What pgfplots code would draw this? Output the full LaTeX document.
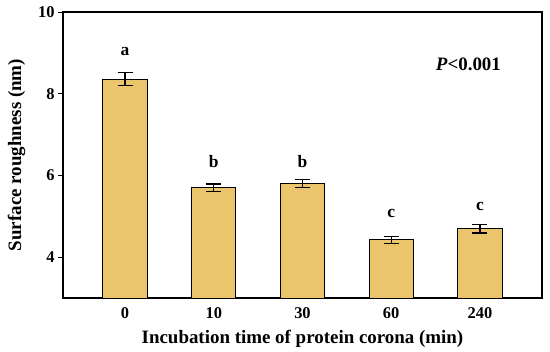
\documentclass[border=0pt]{standalone}
\usepackage{pgfplots}
\pgfplotsset{compat=1.18}
\usepackage{fontspec}
\setmainfont{Liberation Serif}
\definecolor{barcol}{HTML}{EBC56C}
\begin{document}
\begin{tikzpicture}
\begin{axis}[
  scale only axis,
  width=479bp, height=286bp,
  xmin=-0.7, xmax=4.7,
  ymin=3, ymax=10,
  xtick={0,1,2,3,4},
  xticklabels={0,10,30,60,240},
  ytick={4,6,8,10},
  yticklabels={4,6,8,10},
  x tick style={black, line width=1pt},
  y tick style={black, line width=1pt},
  xtick pos=bottom, ytick pos=left,
  xtick align=inside, ytick align=outside,
  major tick length=5bp,
  axis line style={line width=1.3pt},
  tick label style={font=\fontsize{16.5}{19}\selectfont\bfseries},
  xticklabel style={yshift=-6bp},
  label style={font=\fontsize{19}{22}\selectfont\bfseries},
  xlabel={Incubation time of protein corona (min)},
  ylabel={Surface roughness (nm)},
  xlabel style={yshift=-5bp},
  ylabel style={yshift=6bp},
  /pgf/number format/assume math mode=true,
  clip=false,
]
\addplot[ybar, bar width=0.5, fill=barcol, draw=black, line width=1pt,
  error bars/.cd, y dir=both, y explicit,
  error bar style={line width=1.2pt, black},
  error mark options={rotate=90, mark size=7.5bp, line width=1.2pt, black}]
  coordinates {
  (0,8.36) +- (0,0.15)
  (1,5.70) +- (0,0.09)
  (2,5.80) +- (0,0.10)
  (3,4.42) +- (0,0.09)
  (4,4.69) +- (0,0.10)
  };
\begin{scope}[every node/.style={font=\fontsize{17.5}{20}\selectfont\bfseries}]
\node at (axis cs:0,9.03) {a};
\node at (axis cs:1,6.33) {b};
\node at (axis cs:2,6.33) {b};
\node at (axis cs:3,5.07) {c};
\node at (axis cs:4,5.24) {c};
\node[font=\fontsize{19}{22}\selectfont\bfseries] at (axis cs:3.87,8.72) {\textbf{\textit{P}}<0.001};
\end{scope}
\end{axis}
\pgfresetboundingbox
\path[use as bounding box] (-63bp,-54bp) rectangle (487bp,298bp);
\end{tikzpicture}
\end{document}
